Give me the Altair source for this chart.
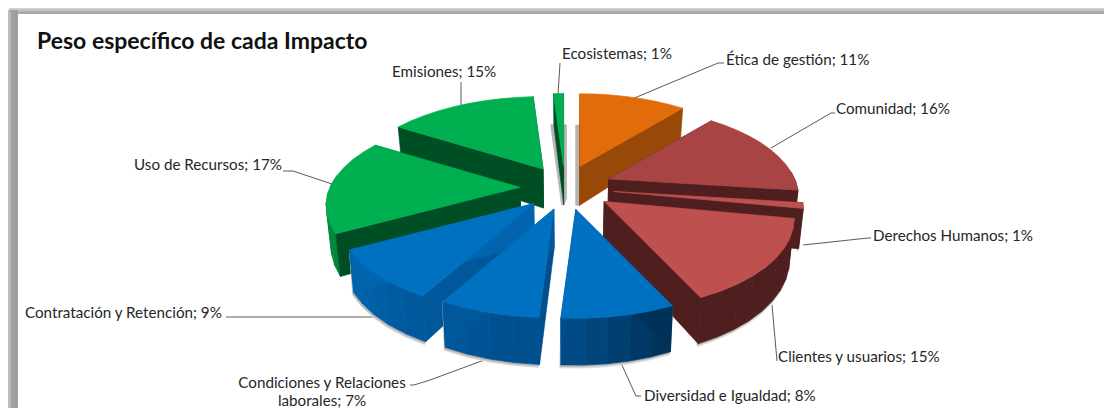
import math
import altair as alt
import pandas as pd

# ---- data -------------------------------------------------------------
NAMES = ["Ética de gestión", "Comunidad", "Derechos Humanos", "Clientes y usuarios",
         "Diversidad e Igualdad", "Condiciones y Relaciones laborales",
         "Contratación y Retención", "Uso de Recursos", "Emisiones", "Ecosistemas"]
SHARES = [11, 16, 1, 15, 8, 7, 9, 17, 15, 1]
FAMILY = ["orange", "maroon", "red", "red", "blue", "blue", "blue", "green", "green", "green"]
LABEL_LINES = [["Ética de gestión; 11%"], ["Comunidad; 16%"], ["Derechos Humanos; 1%"],
               ["Clientes y usuarios; 15%"], ["Diversidad e Igualdad; 8%"],
               ["Condiciones y Relaciones", "laborales; 7%"], ["Contratación y Retención; 9%"],
               ["Uso de Recursos; 17%"], ["Emisiones; 15%"], ["Ecosistemas; 1%"]]
TITLE = "Peso específico de cada Impacto"

# ---- styling / layout --------------------------------------------------
TOP = {"orange": "#E36C0A", "maroon": "#A84444", "red": "#BE5050", "blue": "#0070C0", "green": "#00B050"}
FACE = {"orange": "#984807", "maroon": "#4F1F1F", "red": "#4F1F1F", "blue": None, "green": "#004F24"}
RIM = {"orange": "#984807", "maroon": "#4F1F1F", "red": "#4F1F1F", "blue": None, "green": "#00883F"}
CX, CY = 567, 188          # pie centre on the page
EX, EY = 47, 22            # explosion
A_RIGHT, A_LEFT, B, K = 186, 190, 87, 0.2     # ellipse half axes and perspective
DEPTH = 39
NUDGE = {0: (-3, -1), 9: (-2, 0), 1: (-2, -1)}
DRAW_ORDER = [0, 1, 9, 8, 7, 2, 3, 6, 5, 4]
LABEL_POS = {0: (726, 60, "left"), 1: (836, 109, "left"), 2: (873, 236, "left"), 3: (778, 357, "left"),
             4: (644, 396, "left"), 5: (322, 383, "center"), 6: (25, 313, "left"), 7: (134, 165, "left"),
             8: (392, 72, "left"), 9: (562, 54, "left")}
LINE_GAP = 17.5
LEADERS = [[(632, 99), (718, 63), (724, 63)], [(771, 148), (831, 113), (835, 113)],
           [(803, 245), (868, 238), (871, 238)], [(772, 305), (777, 361)],
           [(621, 363), (636, 396), (641, 396)], [(487, 359), (430, 380), (414, 385), (410, 385)],
           [(375, 317), (226, 317)], [(332, 184), (293, 171), (283, 171)],
           [(461, 107), (461, 82)], [(558, 95), (560, 63)]]


def hex2rgb(h):
    return [int(h[i:i + 2], 16) for i in (1, 3, 5)]


def lerp_color(stops, t):
    for (t0, c0), (t1, c1) in zip(stops, stops[1:]):
        if t <= t1:
            f = max(0.0, (t - t0) / (t1 - t0))
            a, b = hex2rgb(c0), hex2rgb(c1)
            return "#%02x%02x%02x" % tuple(round(a[i] + (b[i] - a[i]) * f) for i in range(3))
    return stops[-1][1]


BLUE_STOPS = [(150, "#002C4F"), (184, "#004E8C"), (241, "#0064AE")]


def rim_pt(tip, th):
    r = math.radians(th)
    s, c = math.sin(r), math.cos(r)
    w = 1 + K * c
    a = A_RIGHT if s >= 0 else A_LEFT
    return tip[0] + a * s / w, tip[1] - B * c / w


def drop(p, th=None):
    d = DEPTH if th is None else DEPTH * (1 - 0.2 * math.cos(math.radians(th)))
    return p[0] - (p[0] - CX) * 0.02, p[1] + d


rows = []
pid = 0


def poly(pts, color):
    global pid
    for i, (x, y) in enumerate(list(pts) + [pts[0]]):
        rows.append({"poly": pid, "seq": i, "x": x, "y": y, "fill": color})
    pid += 1


total = sum(SHARES)
starts = []
acc = 0
for v in SHARES:
    starts.append(acc)
    acc += v * 360 / total

for idx in DRAW_ORDER:
    t0 = starts[idx]
    t1 = t0 + SHARES[idx] * 360 / total
    mid = math.radians((t0 + t1) / 2)
    nx, ny = NUDGE.get(idx, (0, 0))
    tip = (CX + EX * math.sin(mid) + nx, CY - EY * math.cos(mid) + ny)
    tipb = drop(tip)
    fam = FAMILY[idx]

    def face_col(t):
        return FACE[fam] or lerp_color(BLUE_STOPS, t)

    def rim_col(t):
        return RIM[fam] or lerp_color(BLUE_STOPS, t)

    n = max(1, round((t1 - t0) / 6))
    ths = [t0 + (t1 - t0) * i / n for i in range(n + 1)]
    top_rim = [rim_pt(tip, t) for t in ths]
    bot_rim = [drop(p, t) for p, t in zip(top_rim, ths)]

    # soft shadow below the outer wall
    if 95 < (t0 + t1) / 2 < 265:
        for off, col in (((-1, 3), "#d8d8d8"), ((-1, 1.5), "#b4b4b4")):
            poly(top_rim + [(x + off[0], y + off[1]) for x, y in bot_rim[::-1]], col)
    # narrow back slices cast a grey halo on their walls
    if idx == 9:
        xr, ys = top_rim[0][0], bot_rim[0][1]
        poly([(xr - 3, ys), (xr, ys), (tipb[0] - 1, tipb[1]), (tipb[0] - 2, tipb[1])], "#b5b5b5")
        poly([(tipb[0], ys), (tipb[0] + 3, ys), (tipb[0] + 3, tipb[1] - 6), (tipb[0], tipb[1])], "#b5b5b5")
    if idx == 0:
        ys = bot_rim[0][1]
        poly([(tipb[0] - 4, ys), (tipb[0], ys), (tipb[0], tipb[1]), (tipb[0] - 4, tipb[1])], "#b5b5b5")

    # outer wall (only where it faces the viewer), in narrow strips
    for i in range(n):
        tm = (ths[i] + ths[i + 1]) / 2
        if 88 < tm < 275:
            poly([top_rim[i], top_rim[i + 1], bot_rim[i + 1], bot_rim[i]], rim_col(tm))
    # cut faces
    poly([tip, top_rim[0], bot_rim[0], tipb], face_col(t0))
    poly([tip, top_rim[-1], bot_rim[-1], tipb], face_col(t1))
    # top
    poly([tip] + top_rim, TOP[fam])

polys = pd.DataFrame(rows)

X = alt.X("x:Q", axis=None, scale=alt.Scale(domain=[8, 1104], nice=False, zero=False))
Y = alt.Y("y:Q", axis=None, scale=alt.Scale(domain=[408, 8], nice=False, zero=False))
X2 = alt.X2("x2:Q")
Y2 = alt.Y2("y2:Q")

# ---- frame ------------------------------------------------------------
frame = []
for i, col in enumerate(["#d2d2d2", "#c8c8c8", "#bebebe", "#b4b4b4", "#aaaaaa", "#a2a2a2"]):
    frame.append({"x": 9, "x2": 1104, "y": 8 + i, "y2": 9 + i, "c": col})
for i in range(10):
    v = 190 - i * 4 if i < 3 else 166 - i
    frame.append({"x": 8 + i, "x2": 9 + i, "y": 10, "y2": 408, "c": "#%02x%02x%02x" % (v, v, v)})
frame_layer = alt.Chart(pd.DataFrame(frame)).mark_rect().encode(
    x=X, x2=X2, y=Y, y2=Y2, color=alt.Color("c:N", scale=None, legend=None))

pie_layer = alt.Chart(polys).mark_line(filled=True, strokeWidth=0.7, interpolate="linear").encode(
    x=X, y=Y,
    detail="poly:N",
    order="seq:Q",
    color=alt.Color("fill:N", scale=None, legend=None),
    stroke=alt.Stroke("fill:N", scale=None, legend=None),
)

lead_rows = []
for k, line in enumerate(LEADERS):
    for j, (x, y) in enumerate(line):
        lead_rows.append({"k": k, "j": j, "x": x, "y": y})
lead_layer = alt.Chart(pd.DataFrame(lead_rows)).mark_line(color="#5a5a5a", strokeWidth=1).encode(
    x=X, y=Y, detail="k:N", order="j:Q")

text_rows = []
for k, lines in enumerate(LABEL_LINES):
    x, y, al = LABEL_POS[k]
    for j, t in enumerate(lines):
        text_rows.append({"x": x, "y": y + LINE_GAP * j, "t": t, "al": al})
tdf = pd.DataFrame(text_rows)
text_layers = [
    alt.Chart(tdf[tdf.al == al]).mark_text(font="Lato", fontSize=15.2, color="#262626", align=al, baseline="middle")
    .encode(x=X, y=Y, text="t:N")
    for al in ("left", "center")
]
title_layer = alt.Chart(pd.DataFrame({"x": [37], "y": [42], "t": [TITLE]})).mark_text(
    font="Lato", fontSize=23, fontWeight=700, color="#111111", align="left", baseline="middle"
).encode(x=X, y=Y, text="t:N")

chart = alt.layer(frame_layer, lead_layer, pie_layer, *text_layers, title_layer).properties(
    width=1096, height=400, padding=0, background="white",
    autosize=alt.AutoSizeParams(type="none"),
).configure_view(stroke=None)

chart.save("out.html", embed_options={"renderer": "svg", "actions": False})
